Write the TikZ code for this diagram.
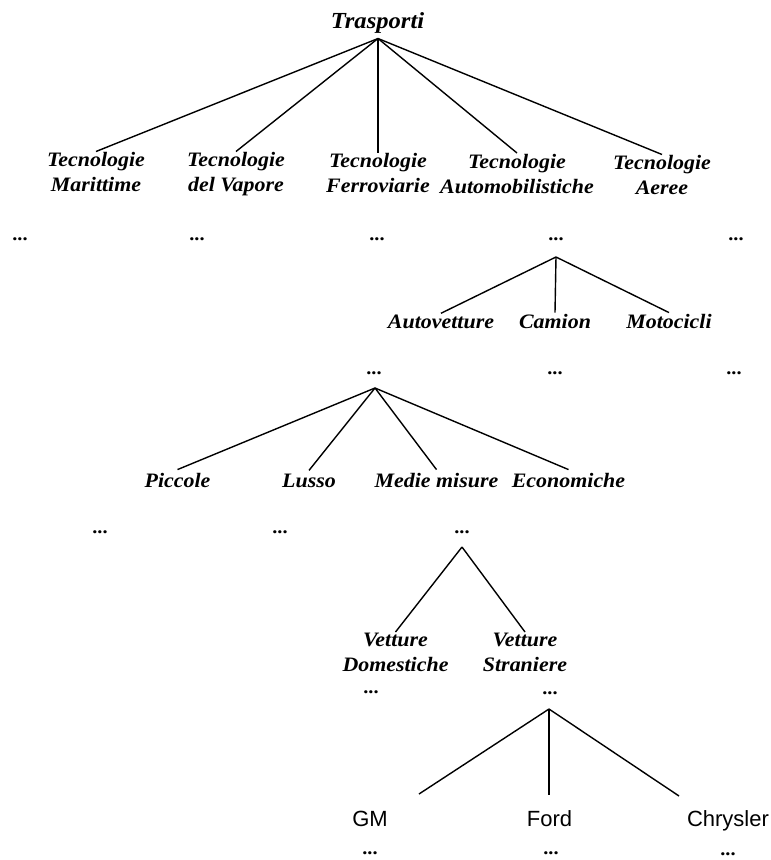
\documentclass[tikz,border=0pt]{standalone}
\usepackage{fontspec}
\setmainfont{Liberation Serif}[FakeStretch=1.07]
\newfontfamily\brandfont{Liberation Sans}
\begin{document}
\begin{tikzpicture}[x=1pt,y=-1pt,
  root/.style={font={\bfseries\itshape\fontsize{23}{27}\selectfont}, inner sep=1pt, anchor=base},
  lab/.style={font={\bfseries\itshape\fontsize{20.5}{25}\selectfont}, inner sep=1pt, anchor=base},
  lab2/.style={font={\bfseries\itshape\fontsize{20.5}{25}\selectfont}, align=center, inner sep=1pt, anchor=north},
  dts/.style={font={\bfseries\fontsize{19}{20}\selectfont}, inner sep=1pt},
  brand/.style={font={\brandfont\fontsize{22}{26}\selectfont}, inner sep=1pt, anchor=base},
  edge/.style={line width=1.4pt}]
\useasboundingbox[fill=white] (0,0) rectangle (771,860);

% level 0
\node[root] (tr) at (377.5,28.3) {Trasporti};
\coordinate (a0) at (378,38.5);

% level 1
\node[lab2] (m1) at (96,151.5)  {Tecnologie\\Marittime};
\node[lab2] (m2) at (236,151.5) {Tecnologie\\del Vapore};
\node[lab2] (m3) at (378,152.5) {Tecnologie\\Ferroviarie};
\node[lab2] (m4) at (517,153) {Tecnologie\\Automobilistiche};
\node[lab2] (m5) at (662,154.5) {Tecnologie\\Aeree};
\foreach \n in {m1,m2,m3,m4,m5} \draw[edge] (a0) -- (\n.north);

\node[dts] (d1) at (20,239)  {...};
\node[dts] (d2) at (197,239) {...};
\node[dts] (d3) at (377,239) {...};
\node[dts] (d4) at (556,239) {...};
\node[dts] (d5) at (736,239) {...};

% level 2
\coordinate (a4) at (556,257);
\node[lab] (c1) at (441,328) {Autovetture};
\node[lab] (c2) at (555,328) {Camion};
\node[lab] (c3) at (669,328) {Motocicli};
\foreach \n in {c1,c2,c3} \draw[edge] (a4) -- (\n.north);

\node[dts] (e1) at (374,373) {...};
\node[dts] (e2) at (555,373) {...};
\node[dts] (e3) at (734,373) {...};

% level 3
\coordinate (a5) at (375,388);
\node[lab] (f1) at (177.5,487) {Piccole};
\node[lab] (f2) at (309,487) {Lusso};
\node[lab] (f3) at (436.5,487) {Medie misure};
\node[lab] (f4) at (568.5,487) {Economiche};
\foreach \n in {f1,f2,f3,f4} \draw[edge] (a5) -- ([yshift=2pt]\n.north);

\node[dts] (g1) at (100,532) {...};
\node[dts] (g2) at (280,532) {...};
\node[dts] (g3) at (462,532) {...};

% level 4
\coordinate (a6) at (462,547);
\node[lab2] (h1) at (395.5,632) {Vetture\\Domestiche};
\node[lab2] (h2) at (525,632) {Vetture\\Straniere};
\foreach \n in {h1,h2} \draw[edge] (a6) -- (\n.north);

\node[dts] (i1) at (371,692) {...};
\node[dts] (i2) at (550,693) {...};

% level 5
\coordinate (a7) at (549,709);
\node[brand] (j1) at (370,826) {GM};
\node[brand] (j2) at (549.5,826) {Ford};
\node[brand] (j3) at (728,826) {Chrysler};
\coordinate (b1) at (419,794);
\coordinate (b2) at (549,795);
\coordinate (b3) at (679,796);
\foreach \n in {b1,b2,b3} \draw[edge] (a7) -- (\n);

\node[dts] (k1) at (370,853) {...};
\node[dts] (k2) at (551,853) {...};
\node[dts] (k3) at (728,854) {...};
\end{tikzpicture}
\end{document}
